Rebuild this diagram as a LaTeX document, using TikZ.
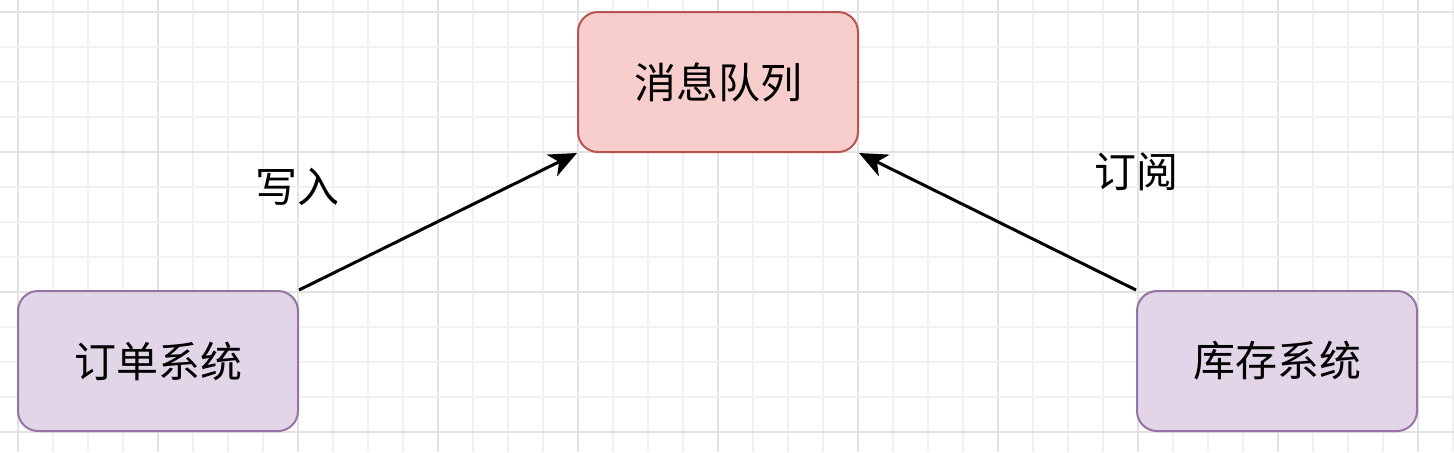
\documentclass[tikz,border=0pt]{standalone}
\usepackage{fontspec}
\setmainfont{Noto Sans CJK SC}
\usepackage{tikz}
\usetikzlibrary{arrows.meta,positioning}
\definecolor{queuefill}{HTML}{F8CECC}
\definecolor{queuedraw}{HTML}{B85450}
\definecolor{sysfill}{HTML}{E1D5E7}
\definecolor{sysdraw}{HTML}{9673A6}
\definecolor{gridminor}{HTML}{F1F1F1}
\definecolor{gridmajor}{HTML}{E2E2E2}
\tikzset{
  sysbox/.style={draw=sysdraw,fill=sysfill,line width=1pt,rounded corners=10pt,minimum width=140pt,minimum height=70pt,font=\fontsize{21pt}{25pt}\selectfont},
  queuebox/.style={sysbox,draw=queuedraw,fill=queuefill},
  flow/.style={line width=1.5pt,-{Stealth[length=14pt,width=12pt,inset=4pt]}},
  flowlabel/.style={font=\fontsize{21pt}{25pt}\selectfont}
}
\begin{document}
\begin{tikzpicture}[x=0.5pt,y=-0.5pt]
\useasboundingbox (0,0) rectangle (1454,452);
\fill[white] (0,0) rectangle (1454,452);
% grid
\foreach \k in {0,...,41} {
  \pgfmathtruncatemacro{\m}{mod(\k,4)}
  \ifnum\m=0 \draw[gridmajor,line width=0.6pt] (18+35*\k,0) -- (18+35*\k,452);
  \else \draw[gridminor,line width=0.6pt] (18+35*\k,0) -- (18+35*\k,452); \fi
}
\foreach \k in {0,...,12} {
  \pgfmathtruncatemacro{\m}{mod(\k,4)}
  \ifnum\m=0 \draw[gridmajor,line width=0.6pt] (0,12+35*\k) -- (1454,12+35*\k);
  \else \draw[gridminor,line width=0.6pt] (0,12+35*\k) -- (1454,12+35*\k); \fi
}
\node[queuebox] (queue) at (718,82) {消息队列};
\node[sysbox] (order) at (158,361) {订单系统};
\node[sysbox] (stock) at (1277,361) {库存系统};
\draw[flow] (order.north east) -- (queue.south west);
\draw[flow] (stock.north west) -- (queue.south east);
\node[flowlabel] (write) at (297,187) {写入};
\node[flowlabel] (subscribe) at (1136,172) {订阅};
\end{tikzpicture}
\end{document}
